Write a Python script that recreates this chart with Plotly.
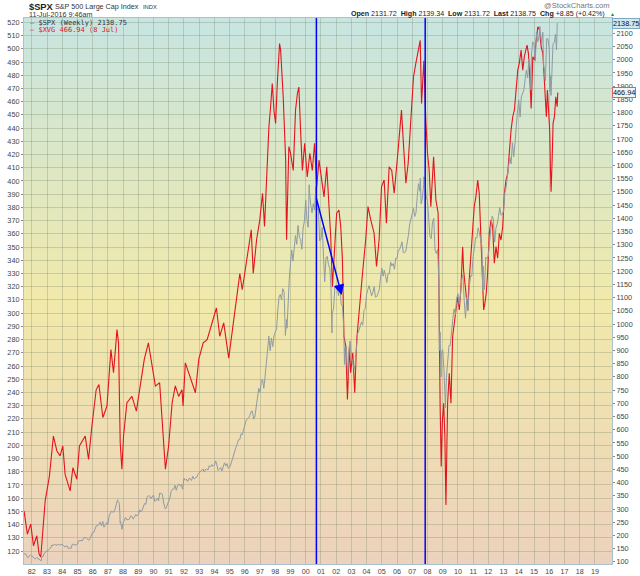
import plotly.graph_objects as go
from datetime import datetime, timedelta
import calendar

# ---------------- DATA ----------------
# $SPX month-end closes, starting Jul 1981, through Jun 2016
SPX_START_YEAR, SPX_START_MONTH = 1981, 7
SPX_MONTHLY = [
    131, 123, 116, 122, 126, 122,
    120, 113, 112, 116, 112, 110, 107, 120, 120, 134, 139, 141,
    145, 148, 153, 164, 162, 168, 163, 164, 166, 164, 166, 165,
    163, 157, 159, 160, 150, 153, 151, 167, 166, 166, 164, 167,
    180, 181, 181, 180, 190, 192, 191, 188, 182, 190, 202, 211,
    212, 227, 238, 236, 247, 251, 236, 253, 231, 244, 249, 242,
    274, 284, 292, 288, 290, 304, 318, 330, 322, 252, 230, 247,
    257, 268, 259, 261, 262, 274, 272, 262, 272, 279, 274, 278,
    297, 289, 295, 310, 321, 318, 346, 351, 349, 340, 346, 353,
    329, 332, 340, 331, 361, 358, 356, 323, 306, 304, 322, 330,
    344, 367, 375, 375, 390, 371, 388, 395, 388, 392, 375, 417,
    409, 413, 404, 415, 415, 408, 424, 414, 418, 419, 431, 436,
    439, 443, 452, 440, 450, 451, 448, 464, 459, 468, 462, 466,
    482, 467, 446, 451, 457, 444, 458, 475, 463, 472, 454, 459,
    470, 487, 501, 515, 533, 545, 562, 562, 584, 582, 605, 616,
    636, 640, 645, 654, 669, 671, 640, 652, 687, 705, 757, 741,
    786, 791, 757, 801, 848, 885, 954, 899, 947, 915, 955, 970,
    980, 1049, 1102, 1112, 1091, 1134, 1121, 957, 1017, 1099, 1164, 1229,
    1280, 1238, 1286, 1335, 1302, 1373, 1329, 1320, 1283, 1363, 1389, 1469,
    1394, 1366, 1499, 1452, 1421, 1455, 1431, 1518, 1437, 1429, 1315, 1320,
    1366, 1240, 1160, 1249, 1256, 1224, 1211, 1134, 1041, 1060, 1139, 1148,
    1130, 1107, 1147, 1077, 1067, 990, 912, 916, 815, 886, 936, 880,
    856, 841, 848, 917, 964, 975, 990, 1008, 996, 1051, 1058, 1112,
    1131, 1145, 1126, 1107, 1121, 1141, 1102, 1104, 1115, 1130, 1174, 1212,
    1181, 1204, 1181, 1157, 1192, 1191, 1234, 1220, 1229, 1207, 1249, 1248,
    1280, 1281, 1295, 1311, 1270, 1270, 1277, 1304, 1336, 1378, 1401, 1418,
    1438, 1407, 1421, 1482, 1531, 1503, 1455, 1474, 1527, 1549, 1481, 1468,
    1379, 1331, 1323, 1386, 1400, 1280, 1267, 1283, 1166, 969, 896, 903,
    826, 735, 798, 873, 919, 919, 987, 1021, 1057, 1036, 1096, 1115,
    1074, 1104, 1169, 1187, 1089, 1031, 1102, 1049, 1141, 1183, 1181, 1258,
    1286, 1327, 1326, 1364, 1345, 1321, 1292, 1219, 1131, 1253, 1247, 1258,
    1312, 1366, 1408, 1398, 1310, 1362, 1379, 1407, 1441, 1412, 1416, 1426,
    1498, 1515, 1569, 1598, 1631, 1606, 1686, 1633, 1682, 1757, 1806, 1848,
    1783, 1859, 1872, 1884, 1924, 1960, 1931, 2003, 1972, 2018, 2068, 2059,
    1995, 2105, 2068, 2086, 2107, 2063, 2104, 1972, 1920, 2079, 2080, 2044,
    1940, 1932, 2060, 2065, 2097, 2099,
]
# intra-month weekly extremes of $SPX
SPX_EXTRA_DATES = [
    "1982-08-13", "1987-08-21", "1987-10-16", "1987-10-23", "1987-12-04",
    "1990-10-12", "1998-10-09", "2000-03-24", "2000-09-01", "2001-09-21",
    "2002-07-19", "2002-10-04", "2003-03-07", "2007-07-13", "2007-10-05",
    "2008-10-10", "2008-11-21", "2009-03-06", "2010-07-02", "2011-08-19",
    "2014-10-17", "2015-05-22", "2015-08-21", "2016-01-15", "2016-02-12",
    "2016-06-24", "2016-07-08", "2016-07-11",
]
SPX_EXTRA_VALUES = [
    104, 335, 283, 248, 223,
    300, 984, 1527, 1520, 966,
    847, 800, 829, 1552, 1557,
    899, 800, 683, 1022, 1123,
    1886, 2126, 1971, 1880, 1865,
    2037, 2130, 2138.75,
]

# $XVG (decimal year, value)
XVG_T = [
    1981.49, 1981.71, 1981.93, 1982.11, 1982.33, 1982.48, 1982.59, 1982.72, 1982.88,
    1983.16, 1983.42, 1983.65, 1983.86, 1984.04, 1984.19, 1984.52, 1984.70, 1984.96,
    1985.13, 1985.51, 1985.73, 1985.95, 1986.23, 1986.41, 1986.67, 1986.94,
    1987.20, 1987.37, 1987.60, 1987.70, 1987.81, 1987.92, 1988.03, 1988.25, 1988.58,
    1988.87, 1989.13, 1989.39, 1989.66, 1989.90, 1990.12, 1990.40, 1990.62, 1990.78,
    1990.99, 1991.22, 1991.43, 1991.65, 1991.87, 1991.94, 1992.09, 1992.31, 1992.64,
    1992.75, 1992.97, 1993.26, 1993.52, 1993.78, 1994.13, 1994.35, 1994.61, 1994.94,
    1995.17, 1995.40, 1995.67, 1995.83, 1995.98, 1996.15, 1996.26, 1996.42, 1996.55,
    1996.77, 1996.98, 1997.16, 1997.29, 1997.42, 1997.58, 1997.69, 1997.80, 1997.91,
    1998.02, 1998.13, 1998.28, 1998.35, 1998.46, 1998.52, 1998.68, 1998.74, 1998.89,
    1999.00, 1999.18, 1999.33, 1999.45, 1999.55, 1999.66, 1999.78, 1999.93,
    2000.10, 2000.27, 2000.43, 2000.58, 2000.72, 2000.87, 2001.03, 2001.20, 2001.38,
    2001.49, 2001.64, 2001.75, 2001.86, 2002.03, 2002.18, 2002.30, 2002.41, 2002.51,
    2002.63, 2002.74, 2002.87, 2002.95, 2003.09, 2003.22, 2003.35, 2003.50, 2003.73,
    2003.94, 2004.09, 2004.27, 2004.49, 2004.65, 2004.82, 2004.98, 2005.15, 2005.30,
    2005.48, 2005.65, 2005.81, 2006.03, 2006.14, 2006.29, 2006.43, 2006.58, 2006.73,
    2006.91, 2007.08, 2007.23, 2007.39, 2007.52, 2007.61, 2007.76, 2007.89, 2008.00,
    2008.11, 2008.22, 2008.40, 2008.55, 2008.70, 2008.77, 2008.83, 2008.90, 2008.97,
    2009.06, 2009.14, 2009.21, 2009.32, 2009.43, 2009.54, 2009.65, 2009.76, 2009.87,
    2009.98, 2010.09, 2010.20, 2010.31, 2010.37, 2010.46, 2010.53, 2010.64, 2010.74,
    2010.86, 2010.97, 2011.07, 2011.18, 2011.30, 2011.40, 2011.47, 2011.56, 2011.62,
    2011.69, 2011.77, 2011.86, 2011.95, 2012.06, 2012.17, 2012.28, 2012.39, 2012.50,
    2012.61, 2012.72, 2012.83, 2012.94, 2013.05, 2013.16, 2013.27, 2013.38, 2013.49,
    2013.60, 2013.71, 2013.82, 2013.93, 2014.03, 2014.15, 2014.26, 2014.36, 2014.54,
    2014.63, 2014.72, 2014.81, 2014.92, 2015.03, 2015.14, 2015.25, 2015.36, 2015.47,
    2015.58, 2015.64, 2015.73, 2015.81, 2015.88, 2015.97, 2016.03, 2016.08, 2016.12,
    2016.19, 2016.25, 2016.34, 2016.43, 2016.52, 2016.56,
]
XVG_V = [
    150.4, 132.8, 140.4, 124.0, 131.6, 117.7, 115.5, 134.3, 158.0,
    176.8, 207.0, 195.7, 192.0, 199.5, 178.0, 165.5, 183.0, 174.3,
    199.5, 207.0, 189.4, 214.6, 242.0, 246.0, 221.0, 229.7,
    272.5, 255.0, 287.5, 277.5, 202.0, 182.0, 207.0, 232.2, 237.0,
    225.9, 246.0, 265.0, 277.5, 258.6, 244.8, 247.3, 212.0, 182.0,
    199.5, 232.0, 245.0, 237.0, 242.0, 229.7, 262.4, 254.9, 245.0,
    239.8, 265.0, 277.5, 280.0, 290.0, 303.9, 282.5, 292.6, 266.0,
    287.5, 305.0, 330.0, 317.7, 329.0, 343.0, 350.4, 363.0, 330.0,
    355.5, 370.6, 390.7, 365.5, 403.2, 441.0, 456.0, 473.7, 453.6,
    443.5, 473.7, 504.0, 499.0, 481.0, 463.6, 415.8, 355.5, 426.0,
    421.0, 408.0, 453.6, 466.0, 471.0, 438.5, 408.0, 428.5,
    403.0, 421.0, 408.0, 428.5, 395.7, 415.8, 400.8, 388.0, 410.8,
    390.7, 358.0, 320.0, 345.0, 375.6, 378.0, 365.5, 340.4, 282.5,
    275.0, 234.7, 275.0, 254.9, 270.0, 239.8, 280.0, 302.6, 330.0,
    355.5, 380.6, 370.6, 360.5, 335.3, 355.5, 395.7, 400.8, 368.0,
    410.8, 408.0, 390.7, 418.3, 436.0, 453.6, 426.0, 398.3, 413.4,
    451.0, 478.7, 488.8, 498.9, 506.4, 458.6, 491.0, 446.0, 421.0,
    408.3, 380.6, 418.3, 385.7, 375.6, 284.7, 229.0, 184.0, 216.7,
    231.8, 206.5, 154.9, 231.8, 254.5, 231.8, 282.2, 294.8, 302.4,
    312.4, 302.4, 320.0, 350.3, 332.6, 322.6, 315.0, 302.4, 325.1,
    345.3, 370.5, 380.5, 388.1, 400.7, 390.6, 365.4, 345.3, 320.0,
    302.4, 307.4, 315.0, 330.1, 360.4, 370.5, 365.4, 337.7, 350.3,
    341.5, 360.4, 355.3, 365.4, 390.6, 400.7, 405.8, 425.9, 438.5,
    448.6, 453.7, 468.8, 483.9, 489.0, 499.0, 483.9, 494.0, 502.8,
    496.6, 478.9, 454.9, 494.0, 491.5, 506.6, 516.7, 514.2, 501.5,
    496.6, 481.4, 463.7, 448.6, 468.8, 451.2, 438.5, 408.3, 391.9,
    415.8, 443.6, 448.6, 463.7, 456.2, 466.94,
]

YEAR_TICKS = list(range(1982, 2020))
LEFT_TICKS = list(range(120, 521, 10))
RIGHT_TICKS = list(range(100, 2151, 50))
MARKER_LINES = ["2000-09-13", "2007-11-07"]
ARROW_FROM = ("2000-09-01", 1482)
ARROW_TO = ("2002-05-12", 1110)


def dec_to_date(t):
    y = int(t)
    start = datetime(y, 1, 1)
    n = (datetime(y + 1, 1, 1) - start).days
    return start + timedelta(days=(t - y) * n)


# build SPX series
spx_pts = []
y, m = SPX_START_YEAR, SPX_START_MONTH
for v in SPX_MONTHLY:
    d = datetime(y, m, calendar.monthrange(y, m)[1])
    spx_pts.append((d, v))
    m += 1
    if m > 12:
        m = 1
        y += 1
for ds, v in zip(SPX_EXTRA_DATES, SPX_EXTRA_VALUES):
    spx_pts.append((datetime.strptime(ds, "%Y-%m-%d"), v))
spx_pts.sort(key=lambda p: p[0])
spx_x = [p[0] for p in spx_pts]
spx_y = [p[1] for p in spx_pts]
spx_x.insert(0, datetime(1981, 6, 28))
spx_y.insert(0, 129)

xvg_x = [dec_to_date(t) for t in XVG_T]

fig = go.Figure()
fig.add_trace(go.Scatter(x=spx_x, y=spx_y, yaxis="y2", mode="lines",
                         line=dict(color="#8f9ba3", width=1), hoverinfo="skip"))
fig.add_trace(go.Scatter(x=xvg_x, y=XVG_V, yaxis="y", mode="lines",
                         line=dict(color="#e3141c", width=1.1), hoverinfo="skip"))

# gradient background bands
stops = [(0.0, (199, 229, 226)), (0.52, (241, 233, 170)), (1.0, (236, 210, 188))]
def grad(f):
    for (f0, c0), (f1, c1) in zip(stops[:-1], stops[1:]):
        if f0 <= f <= f1:
            k = (f - f0) / (f1 - f0)
            return tuple(int(round(a + (b - a) * k)) for a, b in zip(c0, c1))
    return stops[-1][1]

shapes = []
N = 70
for i in range(N):
    f = (i + 0.5) / N  # from top
    c = grad(f)
    shapes.append(dict(type="rect", xref="paper", yref="paper",
                       x0=0, x1=1, y0=1 - (i + 1) / N - 0.001, y1=1 - i / N,
                       fillcolor="rgb(%d,%d,%d)" % c, line=dict(width=0),
                       layer="below"))
for d in MARKER_LINES:
    shapes.append(dict(type="line", xref="x", yref="paper", x0=d, x1=d,
                       y0=0, y1=1, line=dict(color="#0000ff", width=1.5)))

F = "Liberation Sans"
PX = 1.0 / 588  # one pixel of plot width in paper units
anns = [
    dict(xref="paper", yref="paper", x=3 * PX, y=1.021, xanchor="left", yanchor="middle",
         text="<b>$SPX</b>", showarrow=False, font=dict(family=F, size=9.3, color="#222")),
    dict(xref="paper", yref="paper", x=29 * PX, y=1.021, xanchor="left", yanchor="middle",
         text="S&P 500 Large Cap Index", showarrow=False, font=dict(family=F, size=7.2, color="#333")),
    dict(xref="paper", yref="paper", x=117 * PX, y=1.0205, xanchor="left", yanchor="middle",
         text="INDX", showarrow=False, font=dict(family=F, size=5.8, color="#333")),
    dict(xref="paper", yref="paper", x=3 * PX, y=1.0065, xanchor="left", yanchor="middle",
         text="11-Jul-2016 9:46am", showarrow=False, font=dict(family=F, size=7.2, color="#333")),
    dict(xref="paper", yref="paper", x=1.0, y=1.022, xanchor="right", yanchor="middle",
         text="@StockCharts.com", showarrow=False, font=dict(family=F, size=7.6, color="#777")),
    dict(xref="paper", yref="paper", x=0.992, y=1.0075, xanchor="right", yanchor="middle",
         text="<b>Open</b> 2131.72  <b>High</b> 2139.34  <b>Low</b> 2131.72  <b>Last</b> 2138.75  <b>Chg</b> +8.85 (+0.42%)",
         showarrow=False, font=dict(family=F, size=7.1, color="#222")),
    dict(xref="paper", yref="paper", x=0.993, y=1.0065, xanchor="left", yanchor="middle",
         text="▲", showarrow=False, font=dict(family=F, size=5, color="#00a000")),
    dict(xref="paper", yref="paper", x=4 * PX, y=0.9915, xanchor="left", yanchor="middle",
         text="<span style='color:#555'>—</span> $SPX (Weekly) 2138.75", showarrow=False,
         font=dict(family="DejaVu Sans Mono", size=7, color="#333")),
    dict(xref="paper", yref="paper", x=4 * PX, y=0.9785, xanchor="left", yanchor="middle",
         text="— $XVG 466.94 (8 Jul)", showarrow=False,
         font=dict(family="DejaVu Sans Mono", size=7, color="#e3141c")),
    dict(xref="paper", yref="y2", x=1.0, y=2138.75, xanchor="left", yanchor="middle",
         text="2138.75", showarrow=False, bgcolor="#cfe7ef", bordercolor="#7fa9c0",
         borderwidth=1, borderpad=0, font=dict(family=F, size=7.3, color="#111")),
    dict(xref="paper", yref="y", x=1.0, y=466.94, xanchor="left", yanchor="middle",
         text="466.94", showarrow=False, bgcolor="#f4f4f0", bordercolor="#e06060",
         borderwidth=1, borderpad=0, font=dict(family=F, size=7.3, color="#111")),
    dict(xref="x", yref="y2", x=ARROW_TO[0], y=ARROW_TO[1], axref="x", ayref="y2",
         ax=ARROW_FROM[0], ay=ARROW_FROM[1], text="", showarrow=True,
         arrowhead=2, arrowsize=1.4, arrowwidth=1.5, arrowcolor="#0000ff"),
]

grid = "rgba(110,125,100,0.28)"
fig.update_layout(
    width=640, height=576,
    margin=dict(l=24, r=28, t=18, b=12, autoexpand=False),
    paper_bgcolor="white", plot_bgcolor="rgb(236,230,190)",
    showlegend=False,
    shapes=shapes, annotations=anns,
    xaxis=dict(type="date", range=["1981-06-28", "2020-02-15"], automargin=False,
               tickvals=[datetime(yy, 1, 1) for yy in YEAR_TICKS],
               ticktext=["%02d" % (yy % 100) for yy in YEAR_TICKS],
               showgrid=True, gridcolor=grid, gridwidth=1,
               ticks="", ticklen=0,
               tickfont=dict(family=F, size=7.2, color="#444"),
               showline=True, linecolor="#a8c2d0", mirror=True, zeroline=False),
    yaxis=dict(range=[110.2, 523.3], tickvals=LEFT_TICKS, automargin=False,
               showgrid=True, gridcolor=grid, gridwidth=1,
               ticks="outside", ticklen=2, tickcolor="#888",
               tickfont=dict(family=F, size=7.3, color="#444"),
               showline=True, linecolor="#a8c2d0", mirror=True, zeroline=False),
    yaxis2=dict(range=[92, 2158], tickvals=RIGHT_TICKS, overlaying="y", side="right",
                automargin=False,
                showgrid=False, ticks="outside", ticklen=2, tickcolor="#888",
                tickfont=dict(family=F, size=7.3, color="#444"),
                showline=False, zeroline=False),
)

fig.write_html("out.html", config={"displayModeBar": False},
               post_script="document.body.style.margin='0';document.body.style.padding='0';")
